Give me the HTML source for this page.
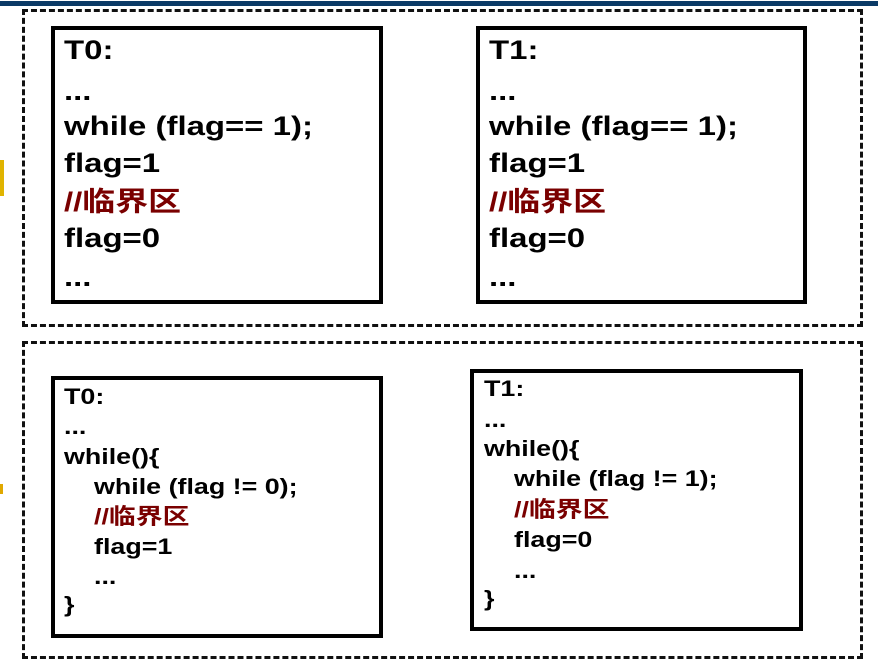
<!DOCTYPE html>
<html><head><meta charset="utf-8"><style>
body{margin:0;width:878px;height:666px;background:#fff;position:relative;overflow:hidden;font-family:"Liberation Sans","Noto Sans CJK SC",sans-serif;font-weight:bold;color:#000}
.a{position:absolute}
.dash{position:absolute;border:3px dashed #111;box-sizing:border-box}
.box{position:absolute;border:4px solid #000;box-sizing:border-box;background:#fff}
.l{position:absolute;white-space:pre;line-height:1;transform-origin:left center}
.big{font-size:27px;transform:scaleX(1.22)}
.sm{font-size:22px;transform:scaleX(1.22)}
.r{color:#7a0000}
</style></head><body>
<div class="a" style="left:0;top:1px;width:878px;height:5px;background:#0b3a66"></div>
<div class="a" style="left:0;top:160px;width:4px;height:36px;background:#e0b400"></div>
<div class="a" style="left:0;top:484px;width:3px;height:10px;background:#e0a800"></div>

<div class="dash" style="left:22px;top:9px;width:841px;height:318px"></div>
<div class="dash" style="left:22px;top:341px;width:841px;height:318px"></div>

<div class="box" style="left:51px;top:26px;width:332px;height:278px"></div>
<div class="box" style="left:476px;top:26px;width:331px;height:278px"></div>
<div class="box" style="left:51px;top:376px;width:332px;height:262px"></div>
<div class="box" style="left:470px;top:369px;width:333px;height:262px"></div>

<div class="l big" style="left:64px;top:37px">T0:</div>
<div class="l big" style="left:64px;top:78px">...</div>
<div class="l big" style="left:64px;top:113px">while (flag== 1);</div>
<div class="l big" style="left:64px;top:150px">flag=1</div>
<div class="l big r" style="left:64px;top:189px">//临界区</div>
<div class="l big" style="left:64px;top:225px">flag=0</div>
<div class="l big" style="left:64px;top:264px">...</div>

<div class="l big" style="left:489px;top:37px">T1:</div>
<div class="l big" style="left:489px;top:78px">...</div>
<div class="l big" style="left:489px;top:113px">while (flag== 1);</div>
<div class="l big" style="left:489px;top:150px">flag=1</div>
<div class="l big r" style="left:489px;top:189px">//临界区</div>
<div class="l big" style="left:489px;top:225px">flag=0</div>
<div class="l big" style="left:489px;top:264px">...</div>

<div class="l sm" style="left:64px;top:386px">T0:</div>
<div class="l sm" style="left:64px;top:416px">...</div>
<div class="l sm" style="left:64px;top:446px">while(){</div>
<div class="l sm" style="left:94px;top:476px">while (flag != 0);</div>
<div class="l sm r" style="left:94px;top:506px">//临界区</div>
<div class="l sm" style="left:94px;top:536px">flag=1</div>
<div class="l sm" style="left:94px;top:566px">...</div>
<div class="l sm" style="left:64px;top:594px">}</div>

<div class="l sm" style="left:484px;top:378px">T1:</div>
<div class="l sm" style="left:484px;top:409px">...</div>
<div class="l sm" style="left:484px;top:438px">while(){</div>
<div class="l sm" style="left:514px;top:468px">while (flag != 1);</div>
<div class="l sm r" style="left:514px;top:499px">//临界区</div>
<div class="l sm" style="left:514px;top:529px">flag=0</div>
<div class="l sm" style="left:514px;top:560px">...</div>
<div class="l sm" style="left:484px;top:588px">}</div>
</body></html>
